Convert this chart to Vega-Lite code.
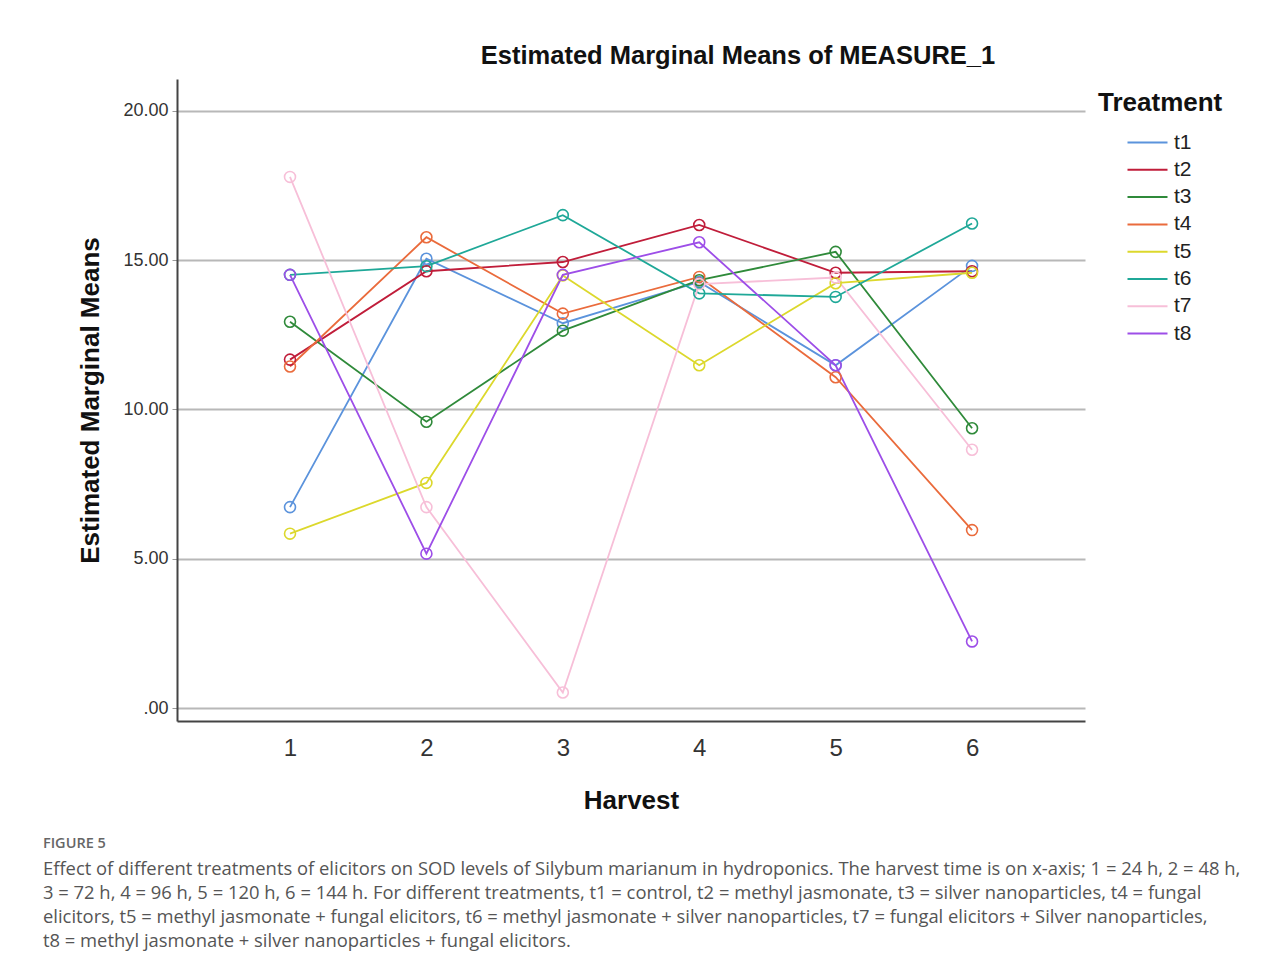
{
  "$schema": "https://vega.github.io/schema/vega-lite/v6.json",
  "background": "white",
  "padding": {"left": 42, "top": 43, "right": 5, "bottom": 5},
  "title": {
    "text": "FIGURE 5",
    "subtitle": [
      "Effect of different treatments of elicitors on SOD levels of Silybum marianum in hydroponics. The harvest time is on x-axis; 1 = 24 h, 2 = 48 h,",
      "3 = 72 h, 4 = 96 h, 5 = 120 h, 6 = 144 h. For different treatments, t1 = control, t2 = methyl jasmonate, t3 = silver nanoparticles, t4 = fungal",
      "elicitors, t5 = methyl jasmonate + fungal elicitors, t6 = methyl jasmonate + silver nanoparticles, t7 = fungal elicitors + Silver nanoparticles,",
      "t8 = methyl jasmonate + silver nanoparticles + fungal elicitors."
    ],
    "orient": "bottom",
    "anchor": "start",
    "dx": -35,
    "offset": 24,
    "font": "Open Sans",
    "fontSize": 14.5,
    "fontWeight": 600,
    "color": "#666666",
    "subtitleFont": "Open Sans",
    "subtitleFontSize": 18.4,
    "subtitleColor": "#555555",
    "subtitleLineHeight": 24,
    "subtitlePadding": 8
  },
  "data": {
    "values": [
      {"h": 1, "t": "t1", "v": 6.73}, {"h": 2, "t": "t1", "v": 15.05}, {"h": 3, "t": "t1", "v": 12.89}, {"h": 4, "t": "t1", "v": 14.27}, {"h": 5, "t": "t1", "v": 11.48}, {"h": 6, "t": "t1", "v": 14.81},
      {"h": 1, "t": "t2", "v": 11.67}, {"h": 2, "t": "t2", "v": 14.63}, {"h": 3, "t": "t2", "v": 14.94}, {"h": 4, "t": "t2", "v": 16.18}, {"h": 5, "t": "t2", "v": 14.58}, {"h": 6, "t": "t2", "v": 14.63},
      {"h": 1, "t": "t3", "v": 12.94}, {"h": 2, "t": "t3", "v": 9.59}, {"h": 3, "t": "t3", "v": 12.64}, {"h": 4, "t": "t3", "v": 14.33}, {"h": 5, "t": "t3", "v": 15.28}, {"h": 6, "t": "t3", "v": 9.37},
      {"h": 1, "t": "t4", "v": 11.44}, {"h": 2, "t": "t4", "v": 15.77}, {"h": 3, "t": "t4", "v": 13.21}, {"h": 4, "t": "t4", "v": 14.44}, {"h": 5, "t": "t4", "v": 11.08}, {"h": 6, "t": "t4", "v": 5.96},
      {"h": 1, "t": "t5", "v": 5.84}, {"h": 2, "t": "t5", "v": 7.54}, {"h": 3, "t": "t5", "v": 14.49}, {"h": 4, "t": "t5", "v": 11.48}, {"h": 5, "t": "t5", "v": 14.23}, {"h": 6, "t": "t5", "v": 14.58},
      {"h": 1, "t": "t6", "v": 14.51}, {"h": 2, "t": "t6", "v": 14.8}, {"h": 3, "t": "t6", "v": 16.51}, {"h": 4, "t": "t6", "v": 13.89}, {"h": 5, "t": "t6", "v": 13.77}, {"h": 6, "t": "t6", "v": 16.23},
      {"h": 1, "t": "t7", "v": 17.79}, {"h": 2, "t": "t7", "v": 6.73}, {"h": 3, "t": "t7", "v": 0.52}, {"h": 4, "t": "t7", "v": 14.2}, {"h": 5, "t": "t7", "v": 14.42}, {"h": 6, "t": "t7", "v": 8.65},
      {"h": 1, "t": "t8", "v": 14.51}, {"h": 2, "t": "t8", "v": 5.17}, {"h": 3, "t": "t8", "v": 14.51}, {"h": 4, "t": "t8", "v": 15.6}, {"h": 5, "t": "t8", "v": 11.48}, {"h": 6, "t": "t8", "v": 2.23}
    ]
  },
  "vconcat": [
    {
      "width": 908,
      "height": 642,
      "title": {
        "text": "Estimated Marginal Means of MEASURE_1",
        "anchor": "middle",
        "frame": "group",
        "dx": 107,
        "offset": 10,
        "font": "Liberation Sans",
        "fontSize": 25.5,
        "fontWeight": "bold",
        "color": "#111111"
      },
      "encoding": {
        "x": {
          "field": "h",
          "type": "quantitative",
          "scale": {"domain": [0.1716, 6.828], "nice": false, "zero": false},
          "axis": {
            "title": "Harvest",
            "values": [1, 2, 3, 4, 5, 6],
            "format": "d",
            "grid": false,
            "ticks": false,
            "domainColor": "#444444",
            "domainWidth": 2,
            "labelFont": "Liberation Sans",
            "labelFontSize": 24,
            "labelColor": "#333333",
            "labelPadding": 15,
            "titleFont": "Liberation Sans",
            "titleFontSize": 26,
            "titleFontWeight": "bold",
            "titleColor": "#111111",
            "titlePadding": 27
          }
        },
        "y": {
          "field": "v",
          "type": "quantitative",
          "scale": {"domain": [-0.435, 21.07], "nice": false, "zero": false},
          "axis": {
            "title": "Estimated Marginal Means",
            "values": [0, 5, 10, 15, 20],
            "labelExpr": "replace(format(datum.value, '.2f'), /^0/, '')",
            "grid": true,
            "gridColor": "#b8b8b8",
            "gridWidth": 2,
            "tickSize": 5,
            "tickColor": "#999999",
            "domainColor": "#444444",
            "domainWidth": 2,
            "labelFont": "Liberation Sans",
            "labelFontSize": 18,
            "labelColor": "#333333",
            "labelPadding": 4,
            "titleFont": "Liberation Sans",
            "titleFontSize": 26,
            "titleFontWeight": "bold",
            "titleColor": "#111111",
            "titlePadding": 19
          }
        },
        "color": {
          "field": "t",
          "type": "nominal",
          "scale": {
            "domain": ["t1", "t2", "t3", "t4", "t5", "t6", "t7", "t8"],
            "range": ["#5b93dc", "#c01d3a", "#2f8a3a", "#ea6b3c", "#dcd82c", "#1fa898", "#f7bfd8", "#9d4ee8"]
          },
          "legend": {
            "title": "Treatment",
            "orient": "none",
            "legendX": 921,
            "legendY": 11,
            "padding": 0,
            "titleFont": "Liberation Sans",
            "titleFontSize": 26,
            "titleFontWeight": "bold",
            "titleColor": "#111111",
            "titlePadding": 13,
            "symbolType": "M-1.6,0H1.6",
            "symbolSize": 625,
            "symbolStrokeWidth": 2,
            "symbolOffset": 36,
            "labelFont": "Liberation Sans",
            "labelFontSize": 21,
            "labelColor": "#222222",
            "labelOffset": 13,
            "rowPadding": 3.3
          }
        }
      },
      "layer": [
        {"mark": {"type": "line", "strokeWidth": 1.8}},
        {"mark": {"type": "point", "filled": false, "size": 120, "strokeWidth": 1.6, "opacity": 1}}
      ]
    }
  ],
  "config": {"view": {"stroke": null}}
}
